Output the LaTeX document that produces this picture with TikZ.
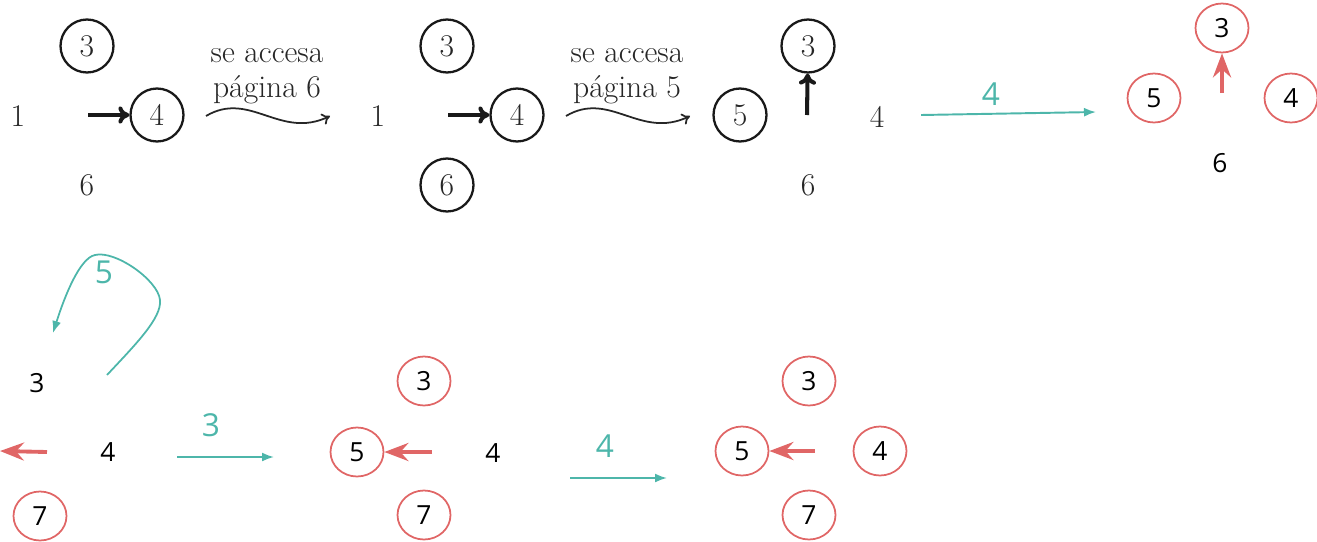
\documentclass[tikz,border=0pt]{standalone}
\usepackage{fontspec}
\newfontfamily\handfont{Open Sans}
\usetikzlibrary{arrows.meta,shapes.geometric}
\definecolor{tealink}{RGB}{77,182,170}
\definecolor{redink}{RGB}{224,102,102}

\begin{document}
\begin{tikzpicture}[
  x=0.02cm, y=-0.02cm,
  scan/.style={font=\fontsize{18}{20}\selectfont, text=black!85},
  bcirc/.style={scan, circle, draw=black!90, line width=1.3pt, minimum size=1.06cm, inner sep=0pt},
  hand/.style={font=\handfont\fontsize{15}{18}\selectfont, text=black},
  rcirc/.style={hand, ellipse, draw=redink, line width=1pt, minimum width=1.06cm, minimum height=0.98cm, inner sep=0pt},
  barrow/.style={-{To[length=2.2mm, width=3.4mm]}, line width=2.3pt, black!90},
  wavy/.style={-{To[length=1.6mm, width=2.4mm]}, line width=1pt, black!85},
  rarrow/.style={-{Stealth[length=4.8mm, width=3.6mm, inset=1.6mm]}, line width=2.2pt, redink},
  tarrow/.style={-{Latex[length=2.4mm, width=1.8mm]}, line width=1.1pt, tealink},
  tlabel/.style={font=\handfont\fontsize{18}{21}\selectfont, text=tealink, inner sep=0pt},
]
\useasboundingbox (0,0) rectangle (1317,541);

% === TOP ROW (scanned part) ===
\node[scan] (a1) at (18,116) {1};
\node[bcirc] (a3) at (87,46) {3};
\node[bcirc] (a4) at (157,115) {4};
\node[scan] (a6) at (87,185) {6};
\coordinate (a-in) at (88,115);
\draw[barrow] (a-in) -- (a4);

\node[scan, align=center] (msg6) at (267,76) {se accesa\\página 6};
\coordinate (w1s) at (206,116);
\coordinate (w1e) at (330,116);
\draw[wavy] (w1s) .. controls (250,90) and (280,140) .. (w1e);

\begin{scope}[shift={(360,0)}]
  \node[scan] (b1) at (18,116) {1};
  \node[bcirc] (b3) at (87,46) {3};
  \node[bcirc] (b4) at (157,115) {4};
  \node[bcirc] (b6) at (87,185) {6};
  \coordinate (b-in) at (88,115);
  \draw[barrow] (b-in) -- (b4);

  \node[scan, align=center] (msg5) at (267,76) {se accesa\\página 5};
  \coordinate (w2s) at (206,116);
  \coordinate (w2e) at (330,116);
  \draw[wavy] (w2s) .. controls (250,90) and (280,140) .. (w2e);
\end{scope}

\node[bcirc] (c5) at (740,115) {5};
\node[bcirc] (c3) at (808,46) {3};
\node[scan] (c4) at (877,117) {4};
\node[scan] (c6) at (808,185) {6};
\coordinate (c-in) at (807,115);
\draw[barrow] (c-in) -- (c3);

% === TOP ROW (hand-drawn part) ===
\coordinate (t1s) at (921,115);
\coordinate (t1e) at (1096,112);
\draw[tarrow] (t1s) -- node[tlabel, pos=0.4, above=4pt] {4} (t1e);

\node[rcirc] (d3) at (1222,28) {3};
\node[rcirc] (d5) at (1154,98) {5};
\node[rcirc] (d4) at (1291,98) {4};
\node[hand] (d6) at (1220,163) {6};
\coordinate (d-in) at (1222,93);
\draw[rarrow] (d-in) -- (d3);

% === BOTTOM ROW ===
\node[hand] (e3) at (37,383) {3};
\node[hand] (e4) at (108,452) {4};
\node[rcirc] (e7) at (40,516) {7};
\coordinate (e-in) at (47,452);
\coordinate (e-out) at (0,451);
\draw[rarrow] (e-in) -- (e-out);

% loop back
\coordinate (ls) at (107,375);
\coordinate (le) at (53,333);
\draw[tarrow, line width=1pt] (ls) .. controls (135,345) and (162,318) .. (160,300)
  .. controls (158,280) and (115,250) .. (95,255)
  .. controls (80,258) and (65,295) .. (le);
\node[tlabel] (l5) at (104,272) {5};

\coordinate (t2s) at (177,457);
\coordinate (t2e) at (274,457);
\draw[tarrow] (t2s) -- node[tlabel, pos=0.35, above=11pt] {3} (t2e);

\node[rcirc] (f3) at (424,381) {3};
\node[rcirc] (f5) at (357,452) {5};
\node[hand] (f4) at (493,453) {4};
\node[rcirc] (f7) at (424,515) {7};
\coordinate (f-in) at (432,452);
\draw[rarrow] (f-in) -- (f5);

\coordinate (t3s) at (570,478);
\coordinate (t3e) at (667,478);
\draw[tarrow] (t3s) -- node[tlabel, pos=0.36, above=11pt] {4} (t3e);

\node[rcirc] (g3) at (809,381) {3};
\node[rcirc] (g5) at (742,451) {5};
\node[rcirc] (g4) at (880,451) {4};
\node[rcirc] (g7) at (809,515) {7};
\coordinate (g-in) at (815,451);
\draw[rarrow] (g-in) -- (g5);
\end{tikzpicture}
\end{document}
